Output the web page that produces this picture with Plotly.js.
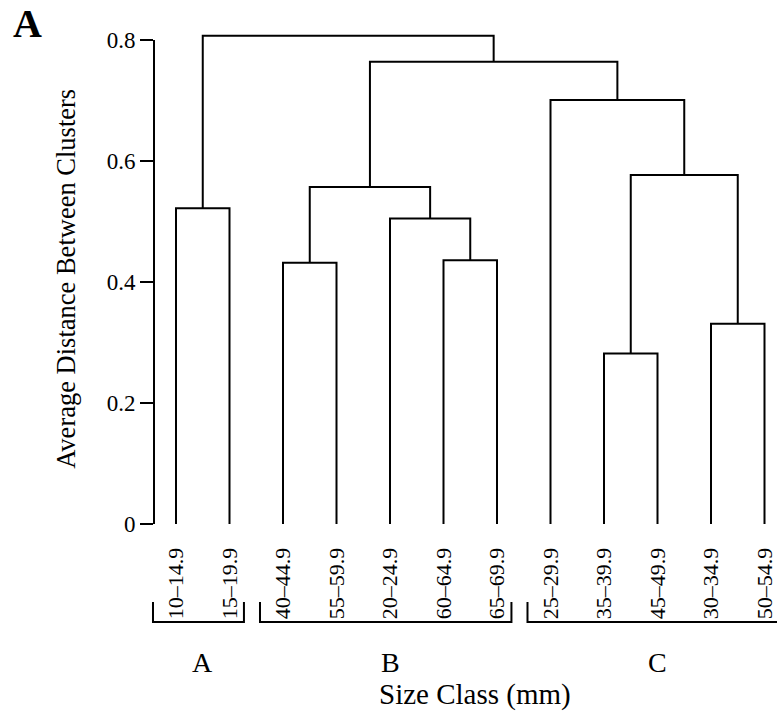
<!DOCTYPE html>
<html>
<head>
<meta charset="utf-8">
<script src="https://cdn.plot.ly/plotly-3.0.1.min.js"></script>
<style>html,body{margin:0;padding:0;background:#fff;}#chart{width:777px;height:725px;}</style>
</head>
<body>
<div id="chart"></div>
<script>
// ---- data ----
var leafLabels = ['10–14.9','15–19.9','40–44.9','55–59.9','20–24.9','60–64.9','65–69.9','25–29.9','35–39.9','45–49.9','30–34.9','50–54.9'];
// merges: node ids 0..11 are leaves, 12.. are clusters in merge order
var mergeLeft   = [8, 10, 2, 5, 4, 0, 14, 12, 7, 18, 17];
var mergeRight  = [9, 11, 3, 6, 15, 1, 16, 13, 19, 20, 21];
var mergeHeight = [0.282, 0.331, 0.432, 0.436, 0.505, 0.522, 0.557, 0.577, 0.701, 0.764, 0.807];
var groupNames = ['A', 'B', 'C'];
var groupFirst = [0, 2, 7];
var groupLast  = [1, 6, 11];
var yTickVals = [0, 0.2, 0.4, 0.6, 0.8];
var yTickText = ['0', '0.2', '0.4', '0.6', '0.8'];

// ---- build dendrogram ----
var nodeX = [], nodeH = [];
for (var i = 0; i < leafLabels.length; i++) { nodeX.push(i); nodeH.push(0); }
var lx = [], ly = [];
for (var m = 0; m < mergeHeight.length; m++) {
  var a = mergeLeft[m], b = mergeRight[m], h = mergeHeight[m];
  lx.push(nodeX[a], nodeX[a], nodeX[b], nodeX[b], null);
  ly.push(nodeH[a], h, h, nodeH[b], null);
  nodeX.push((nodeX[a] + nodeX[b]) / 2);
  nodeH.push(h);
}

// ---- layout geometry ----
var W = 777, H = 725;
var mL = 154, mR = 0, mT = 28.4, mB = 201;
var step = 53.5;
var xMin = -22 / step, xMax = (777 - 176) / step;
var yMax = 0.82;
var plotW = W - mL - mR, plotH = H - mT - mB;
function px2paperX(p) { return (p - mL) / plotW; }
function py2paperY(p) { return (H - mB - p) / plotH; }
function dx2paper(v) { return (v - xMin) / (xMax - xMin); }

var font = 'Liberation Serif, Times New Roman, serif';
var shapes = [];
// y axis line from 0 to 0.8
shapes.push({type: 'line', xref: 'paper', yref: 'paper', x0: 0, x1: 0, y0: 0, y1: 0.8 / yMax,
  line: {color: '#000', width: 2}});
var annotations = [];
for (var g = 0; g < groupNames.length; g++) {
  var x0 = dx2paper(groupFirst[g] - 0.43), x1 = dx2paper(groupLast[g] + 0.27);
  var yt = py2paperY(602), yb = py2paperY(622);
  shapes.push({type: 'path', xref: 'paper', yref: 'paper',
    path: 'M' + x0 + ',' + yt + ' L' + x0 + ',' + yb + ' L' + x1 + ',' + yb + ' L' + x1 + ',' + yt,
    line: {color: '#000', width: 2}});
  annotations.push({xref: 'paper', yref: 'paper', x: dx2paper((groupFirst[g] + groupLast[g]) / 2),
    y: py2paperY(662), text: groupNames[g], showarrow: false, xanchor: 'center', yanchor: 'middle',
    font: {family: font, size: 28, color: '#000'}});
}
annotations.push({xref: 'paper', yref: 'paper', x: px2paperX(475), y: py2paperY(694),
  text: 'Size Class (mm)', showarrow: false, xanchor: 'center', yanchor: 'middle',
  font: {family: font, size: 29, color: '#000'}});
annotations.push({xref: 'paper', yref: 'paper', x: px2paperX(66), y: py2paperY(279),
  text: 'Average Distance Between Clusters', showarrow: false, textangle: -90,
  xanchor: 'center', yanchor: 'middle', font: {family: font, size: 26.5, color: '#000'}});
annotations.push({xref: 'paper', yref: 'paper', x: px2paperX(27), y: py2paperY(23.5),
  text: '<b>A</b>', showarrow: false, xanchor: 'center', yanchor: 'middle',
  font: {family: font, size: 40, color: '#000'}});

var trace = {x: lx, y: ly, type: 'scatter', mode: 'lines', line: {color: '#000', width: 2},
  hoverinfo: 'skip', showlegend: false, connectgaps: false};

var layout = {
  width: W, height: H,
  margin: {l: mL, r: mR, t: mT, b: mB, pad: 0},
  paper_bgcolor: '#fff', plot_bgcolor: '#fff',
  showlegend: false,
  xaxis: {range: [xMin, xMax], showgrid: false, zeroline: false, showline: false,
    tickmode: 'array', tickvals: leafLabels.map(function (d, i) { return i; }), ticktext: leafLabels,
    tickangle: -90, ticks: 'outside', ticklen: 14, tickcolor: 'rgba(0,0,0,0)',
    ticklabeloverflow: 'allow',
    tickfont: {family: font, size: 22, color: '#000'}, fixedrange: true},
  yaxis: {range: [0, yMax], showgrid: false, zeroline: false, showline: false,
    tickmode: 'array', tickvals: yTickVals, ticktext: yTickText,
    ticks: 'outside', ticklen: 13, tickwidth: 2, tickcolor: '#000',
    tickfont: {family: font, size: 23, color: '#000'}, fixedrange: true},
  shapes: shapes,
  annotations: annotations
};
Plotly.newPlot('chart', [trace], layout, {staticPlot: true, displayModeBar: false});
</script>
</body>
</html>
